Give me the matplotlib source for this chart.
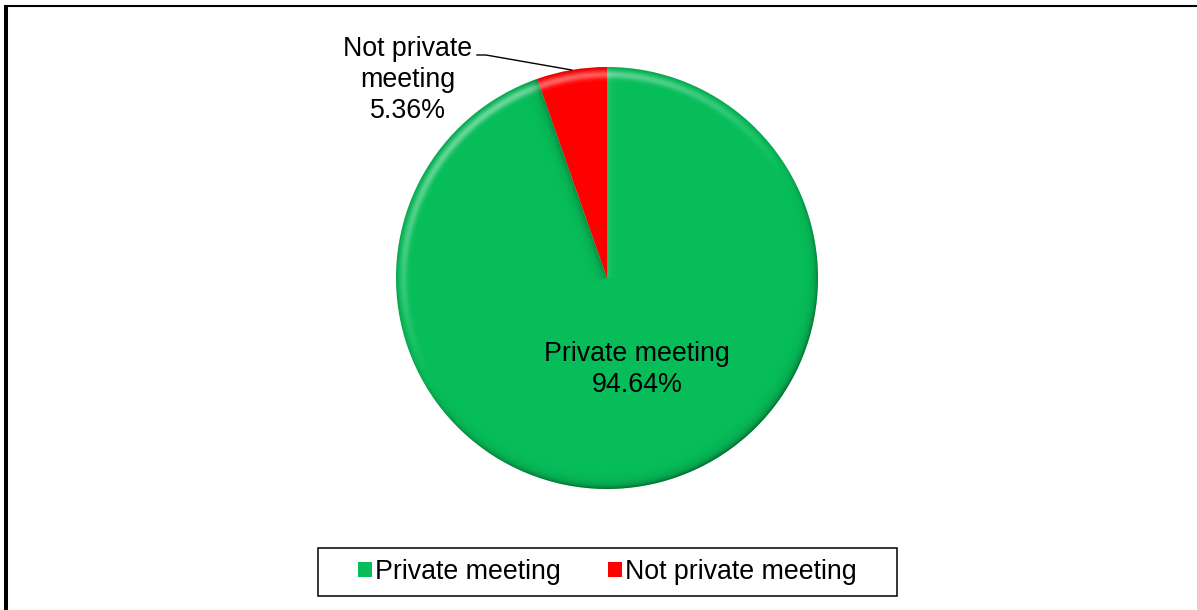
import matplotlib

matplotlib.use("Agg")
import matplotlib.pyplot as plt
import numpy as np
from matplotlib.patches import Circle, Rectangle

plt.rcParams["font.family"] = ["Liberation Sans", "DejaVu Sans"]

# share of respondents by meeting type
categories = ["Private meeting", "Not private meeting"]
shares = [94.64, 5.36]
slice_colors = ["#07BD59", "#FF0000"]

W, H = 1197, 610
CX, CY, R = 607.0, 332.0, 211.0
FS = 19.3

fig = plt.figure(figsize=(W / 100, H / 100), dpi=100)
ax = fig.add_axes([0, 0, 1, 1])

wedges, _ = ax.pie(
    shares, colors=slice_colors, startangle=90, counterclock=False,
    center=(CX, CY), radius=R, wedgeprops=dict(linewidth=0),
)

# bevel shading: light rim towards the top-left, darker rim at the bottom
xs = np.arange(CX - R, CX + R + 1)
ys = np.arange(CY - R, CY + R + 1)
gx, gy = np.meshgrid(xs, ys)
rho = np.hypot(gx - CX, gy - CY)
phi = np.degrees(np.arctan2(gy - CY, gx - CX))
d = R - rho
light = np.cos(np.radians(phi - 120))
hi = 0.40 * np.clip(light, 0, 1) * np.exp(-((d - 7) / 4.0) ** 2)
lo = 0.35 * np.clip(-light, 0, 1) ** 0.7 * np.exp(-np.clip(d, 0, None) / 5.0)
lo += 0.15 * np.exp(-np.clip(d, 0, None) / 1.8)

# shading along the slice boundaries
bounds = sorted({w.theta1 % 360 for w in wedges} | {w.theta2 % 360 for w in wedges})
for a in bounds:
    rel = (phi - a + 180) % 360 - 180
    perp = rho * np.sin(np.radians(rel))
    side = (np.abs(rel) < 90)
    if a > 95:
        lo += np.where(side & (perp > 0), 0.32 * np.exp(-perp / 4.5), 0)
    else:
        hi += np.where(side & (perp < 0), 0.12 * np.exp(perp / 4.0), 0)

extent = (xs[0], xs[-1], ys[0], ys[-1])
for rgb, alpha in (((1, 1, 1), hi), ((0, 0.12, 0.04), lo)):
    img = np.zeros(gx.shape + (4,))
    img[..., :3] = rgb
    img[..., 3] = np.clip(alpha, 0, 0.8)
    im = ax.imshow(img, extent=extent, origin="lower", interpolation="bilinear",
                   zorder=3)
    im.set_clip_path(Circle((CX, CY), R, transform=ax.transData))

# data labels
big, small = wedges
ax.text(CX + 30, CY - 91.5, f"{categories[0]}\n{shares[0]:.2f}%",
        ha="center", va="center", fontsize=FS, linespacing=1.25, zorder=5)

mid = np.radians((small.theta1 + small.theta2) / 2)
rim = (CX + R * np.cos(mid), CY + R * np.sin(mid))
ax.text(408, 530, "Not private\nmeeting\n" + f"{shares[1]:.2f}%",
        ha="center", va="center", fontsize=FS, linespacing=1.25, zorder=5)
ax.plot([477, 486, rim[0]], [555, 555, rim[1]], color="black", lw=1.0, zorder=5)

leg = ax.legend(
    wedges, categories, loc="center", bbox_to_anchor=(607.5, 38),
    bbox_transform=ax.transData, ncol=2, fontsize=FS, frameon=False,
    handlelength=0.52, handleheight=0.52, handletextpad=0.12, columnspacing=1.75,
)
ax.add_patch(Rectangle((318, 14), 579, 48, fill=False, edgecolor="black", lw=1.1))

# outer frame: left and top edges only
ax.plot([6, 6], [0, 605], color="black", lw=2.9, clip_on=False, solid_capstyle="butt")
ax.plot([4, W], [604.5, 604.5], color="black", lw=1.5, clip_on=False, solid_capstyle="butt")

ax.set_xlim(0, W)
ax.set_ylim(0, H)
ax.set_aspect("auto")
ax.axis("off")

fig.savefig("out.png", dpi=100, facecolor="white")
